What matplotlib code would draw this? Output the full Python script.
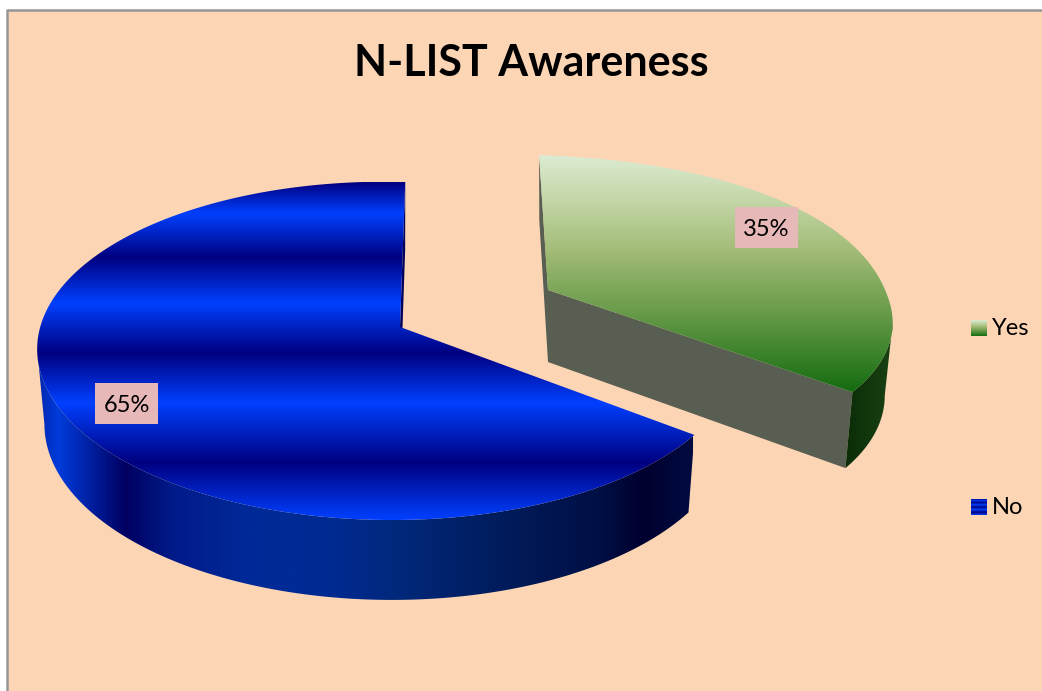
import numpy as np
import matplotlib
matplotlib.use('Agg')
from matplotlib import pyplot as plt
from matplotlib.colors import LinearSegmentedColormap
from matplotlib.patches import Polygon, Rectangle

categories = ['Yes', 'No']
values = [35, 65]

title = 'N-LIST Awareness'
bg_color = '#fcd5b5'
label_color = '#e6b8b7'

# (position in pixels, colour) stops of the fills
yes_top = [(155, '#dcebd2'), (195, '#c6d9ac'), (250, '#a3bc77'), (310, '#6a9c4c'), (392, '#146c10')]
no_top = [(182, '#000080'), (213, '#0040ff'), (257, '#000080'), (303, '#0040ff'),
          (353, '#000080'), (403, '#0040ff'), (463, '#000080'), (520, '#0040ff')]
no_side = [(38, '#0028b0'), (57, '#003cdc'), (125, '#000060'), (170, '#001a88'), (250, '#002a98'),
           (340, '#002a90'), (400, '#00287a'), (500, '#001c5c'), (600, '#000f45'), (645, '#00002e'), (693, '#000b40')]
yes_side = [(845, '#0a2c08'), (893, '#1a4212')]

# apex x, apex y, a, b, k, m, s, t, depth, depth change, bottom scale, bulge of the back rim
yes_view = (548, 290, 351, 151.6, 0.123, 0.03, 10, 10, 72, 0.095, 0.977, 2.2)
no_view = (400, 327, 347, 165.6, 0.142, 0.031, -6, 5.3, 74, 0.08, 0.98, 2.0)


def project(ang, view):
    # angle clockwise from the top of the pie -> pixel outline, top and bottom rim
    x0, y0, a, b, k, m, s, t, d, dc, sc, p = view
    u, v = np.sin(ang), -np.cos(ang)
    r = (np.abs(u) ** p + np.abs(v) ** p) ** (1 / p)
    r = np.where(v < 0, r, 1.0)
    u, v = u / r, v / r
    w = 1 - k * v + m * u
    dx = (a * u + s * v) / w
    dy = (b * v + t * u) / w
    top = np.column_stack([x0 + dx, y0 + dy])
    bot = np.column_stack([x0 + sc * dx, y0 + dy + d * (1 + dc * v)])
    return top, bot


def grad_fill(ax, pts, stops, vertical, z):
    # draws a gradient image and clips it to a polygon
    lo, hi = stops[0][0], stops[-1][0]
    cmap = LinearSegmentedColormap.from_list('g', [((p - lo) / (hi - lo), c) for p, c in stops])
    ramp = np.linspace(0, 1, 512)
    if vertical:
        im = ax.imshow(ramp[:, None], cmap=cmap, aspect='auto', origin='upper',
                       extent=(0, 1042, hi, lo), zorder=z)
    else:
        im = ax.imshow(ramp[None, :], cmap=cmap, aspect='auto',
                       extent=(lo, hi, 691, 0), zorder=z)
    clip = Polygon(pts, closed=True, transform=ax.transData, fc='none', ec='none')
    ax.add_patch(clip)
    im.set_clip_path(clip)


fig = plt.figure(figsize=(10.42, 6.91), dpi=100)
ax = fig.add_axes([0, 0, 1, 1])
ax.axis('off')

ax.add_patch(Rectangle((7, 10), 1035, 681, fc=bg_color, ec='none', zorder=0))
ax.plot([7, 7, 1042], [691, 10, 10], color='#969696', lw=1.8, zorder=1)

# wedge angles from the values, clockwise from the top
edges = np.radians(np.cumsum([0] + values) / sum(values) * 360)

# Yes slice
ang = np.linspace(edges[0], edges[1], 200)
top, bot = project(ang, yes_view)
apex = np.array(yes_view[:2], dtype=float)
apex_bot = apex + [0, yes_view[8]]
ax.add_patch(Polygon([top[0], apex, apex_bot, bot[0]], fc='#595e52', ec='none', zorder=2))
ax.add_patch(Polygon([apex, top[-1], bot[-1], apex_bot], fc='#595e52', ec='none', zorder=2))
i = np.argmax(top[:, 0])  # outer wall only shows from the right extreme on
grad_fill(ax, np.vstack([top[i:], bot[i:][::-1]]), yes_side, False, 2)
grad_fill(ax, np.vstack([apex, top]), yes_top, True, 3)

# No slice
ang = np.linspace(edges[1], edges[2], 400)
top, bot = project(ang, no_view)
apex = np.array(no_view[:2], dtype=float)
apex_bot = apex + [0, no_view[8]]
ax.add_patch(Polygon([top[-1], apex, apex_bot, bot[-1]], fc='#00005c', ec='none', zorder=2))
i = np.argmin(top[:, 0])
grad_fill(ax, np.vstack([top[:i + 1], bot[:i + 1][::-1]]), no_side, False, 2)
grad_fill(ax, np.vstack([apex, top]), no_top, True, 3)

# percent labels
font = 'Lato'
shares = [round(100 * v / sum(values)) for v in values]
for share, (x, y, w, h) in zip(shares, [(735, 207, 63, 41), (95, 383, 63, 41)]):
    ax.add_patch(Rectangle((x, y), w, h, fc=label_color, ec='none', zorder=4))
    ax.text(x + w / 2, y + h / 2 + 1.5, f'{share}%', fontsize=17, family=font,
            ha='center', va='center', color='black', zorder=5)

# legend
for name, stops, y in zip(categories, [yes_top, no_top], [320, 499]):
    sw = np.array([[0, 0], [16, 0], [16, 16], [0, 16]], dtype=float) + [971, y]
    lo, hi = stops[0][0], stops[-1][0]
    scaled = [(y + (p - lo) / (hi - lo) * 16, c) for p, c in stops]
    grad_fill(ax, sw, scaled, True, 3)
    ax.text(992, y + 8.5, name, fontsize=17, family=font, ha='left', va='center', color='black', zorder=5)

ax.text(531, 62.5, title, fontsize=31, family=font, fontweight='bold',
        ha='center', va='center', color='black', zorder=5)

ax.set_xlim(0, 1042)
ax.set_ylim(691, 0)
fig.savefig('out.png', dpi=100, facecolor='white')
